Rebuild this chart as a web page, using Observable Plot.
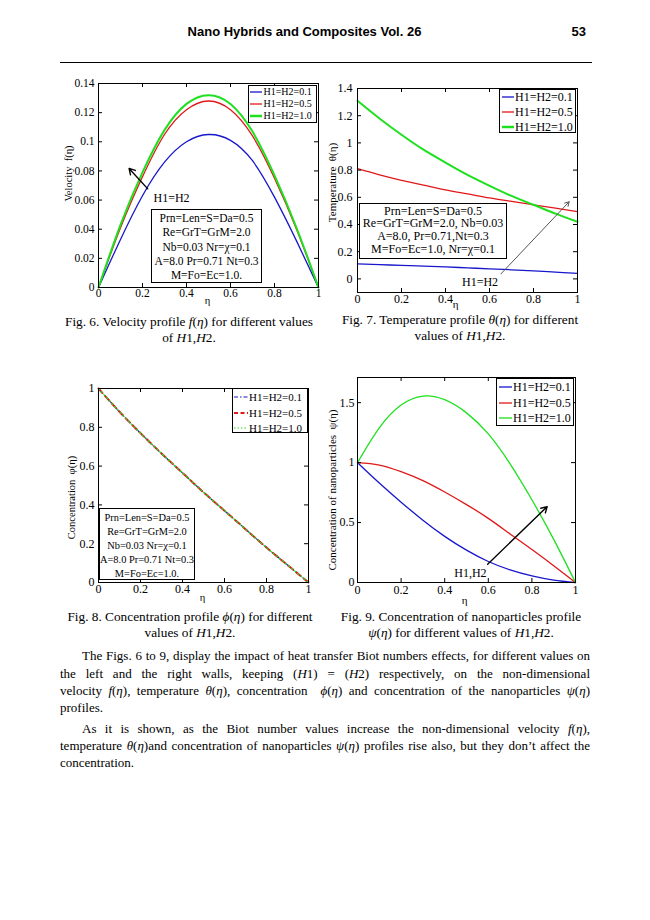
<!DOCTYPE html>
<html>
<head>
<meta charset="utf-8">
<script src="https://cdn.jsdelivr.net/npm/d3@7"></script>
<script src="https://cdn.jsdelivr.net/npm/@observablehq/plot@0.6"></script>
<style>
html, body { margin: 0; padding: 0; background: #fff; }
#page { position: relative; width: 650px; height: 920px; overflow: hidden; font-family: "Liberation Serif", "Times New Roman", serif; color: #000; background: #fff; }
.abs { position: absolute; white-space: nowrap; }
.header { font-family: "Liberation Sans", Arial, sans-serif; font-weight: bold; font-size: 13px; line-height: 16px; }
.caption { position: absolute; font-size: 13.3px; line-height: 16px; text-align: center; white-space: nowrap; }
.legend { position: absolute; border: 1px solid #000; background: #fff; box-sizing: border-box; }
.legend .row { position: absolute; left: 0; height: 16px; width: 100%; }
.legend svg { position: absolute; top: 0; }
.legend span { position: absolute; top: 0; line-height: 16px; white-space: nowrap; }
.pbox { position: absolute; border: 1px solid #000; background: #fff; box-sizing: border-box; text-align: center; white-space: nowrap; }
.pline { position: absolute; font-size: 13px; line-height: 17px; white-space: nowrap; }
</style>
</head>
<body>
<div id="page"></div>
<script>
// ---------------- DATA ----------------
const eta = [0, 0.1, 0.2, 0.3, 0.4, 0.5, 0.6, 0.7, 0.8, 0.9, 1];
const seriesNames = ["H1=H2=0.1", "H1=H2=0.5", "H1=H2=1.0"];

// Fig. 6 velocity f(eta)
const velocity01 = [0, 0.033, 0.063, 0.086, 0.100, 0.105, 0.101, 0.087, 0.062, 0.032, 0];
const velocity05 = [0, 0.041, 0.076, 0.105, 0.122, 0.128, 0.122, 0.104, 0.075, 0.040, 0];
const velocity10 = [0, 0.043, 0.079, 0.108, 0.126, 0.132, 0.126, 0.107, 0.077, 0.041, 0];

// Fig. 7 temperature theta(eta)
const temperature01 = [0.110, 0.105, 0.099, 0.094, 0.088, 0.081, 0.074, 0.067, 0.059, 0.050, 0.041];
const temperature05 = [0.810, 0.765, 0.725, 0.690, 0.655, 0.625, 0.595, 0.570, 0.545, 0.520, 0.495];
const temperature10 = [1.310, 1.180, 1.060, 0.950, 0.855, 0.765, 0.685, 0.610, 0.545, 0.480, 0.420];

// Fig. 8 concentration phi(eta) (the three curves coincide)
const concentration01 = [1, 0.880, 0.770, 0.665, 0.565, 0.465, 0.370, 0.275, 0.180, 0.090, 0];
const concentration05 = [1, 0.880, 0.770, 0.665, 0.565, 0.465, 0.370, 0.275, 0.180, 0.090, 0];
const concentration10 = [1, 0.880, 0.770, 0.665, 0.565, 0.465, 0.370, 0.275, 0.180, 0.090, 0];

// Fig. 9 nanoparticle concentration psi(eta)
const nano01 = [1, 0.830, 0.670, 0.520, 0.385, 0.270, 0.175, 0.105, 0.055, 0.020, 0];
const nano05 = [1, 0.980, 0.925, 0.850, 0.755, 0.650, 0.535, 0.405, 0.275, 0.140, 0];
const nano10 = [1, 1.290, 1.480, 1.555, 1.525, 1.415, 1.240, 0.990, 0.690, 0.360, 0];

// Tick values
const etaTicks = [0, 0.2, 0.4, 0.6, 0.8, 1];
const velocityTicks = [0, 0.02, 0.04, 0.06, 0.08, 0.1, 0.12, 0.14];
const temperatureTicks = [0, 0.2, 0.4, 0.6, 0.8, 1, 1.2, 1.4];
const concentrationTicks = [0, 0.2, 0.4, 0.6, 0.8, 1];
const nanoTicks = [0, 0.5, 1, 1.5];

// Annotations
const velocityArrow = [{x1: 0.224, y1: 0.0677, x2: 0.139, y2: 0.0817}];
const velocityNote = [{x: 0.25, y: 0.0616, text: "H1=H2"}];
const temperatureArrow = [{x1: 0.652, y1: 0.037, x2: 0.962, y2: 0.567}];
const temperatureNote = [{x: 0.557, y: -0.025, text: "H1=H2"}];
const nanoArrow = [{x1: 0.597, y1: 0.152, x2: 0.870, y2: 0.633}];
const nanoNote = [{x: 0.592, y: 0.078, text: "H1,H2"}];

const velocityParams = ["Prn=Len=S=Da=0.5", "Re=GrT=GrM=2.0", "Nb=0.03 Nr=χ=0.1", "A=8.0 Pr=0.71 Nt=0.3", "M=Fo=Ec=1.0."];
const temperatureParams = ["Prn=Len=S=Da=0.5", "Re=GrT=GrM=2.0, Nb=0.03", "A=8.0, Pr=0.71,Nt=0.3", "M=Fo=Ec=1.0, Nr=χ=0.1"];
const concentrationParams = ["Prn=Len=S=Da=0.5", "Re=GrT=GrM=2.0", "Nb=0.03 Nr=χ=0.1", "A=8.0 Pr=0.71 Nt=0.3", "M=Fo=Ec=1.0."];

// ---------------- STYLE ----------------
const BLUE = "#1717cc", RED = "#e01818", GREEN = "#1ee01e";
const page = document.getElementById("page");
const serif = '"Liberation Serif", "Times New Roman", serif';

function table(values) { return eta.map((e, i) => ({eta: e, value: values[i]})); }

function lineMark(values, stroke, width, dash) {
  return Plot.line(table(values), {x: "eta", y: "value", stroke, strokeWidth: width, strokeDasharray: dash, curve: "natural"});
}

function drawChart(cfg) {
  const fw = cfg.width - cfg.mL - cfg.mR, fh = cfg.height - cfg.mT - cfg.mB;
  const t = 4;
  const fmt = d => String(d);
  const chart = Plot.plot({
    width: cfg.width, height: cfg.height,
    marginLeft: cfg.mL, marginRight: cfg.mR, marginTop: cfg.mT, marginBottom: cfg.mB,
    style: {fontFamily: serif, fontSize: cfg.fontSize + "px", color: "#000", background: "transparent", overflow: "visible"},
    x: {domain: [0, 1]},
    y: {domain: cfg.yDomain},
    marks: [
      ...cfg.lines,
      Plot.tickX(etaTicks, {x: d => d, insetTop: fh - t, stroke: "#000"}),
      Plot.tickX(etaTicks, {x: d => d, insetBottom: fh - t, stroke: "#000"}),
      Plot.tickY(cfg.yTicks, {y: d => d, insetRight: fw - t, stroke: "#000"}),
      Plot.tickY(cfg.yTicks, {y: d => d, insetLeft: fw - t, stroke: "#000"}),
      Plot.axisX(etaTicks, {tickSize: 0, tickPadding: cfg.xPad, tickFormat: fmt, label: null}),
      Plot.axisY(cfg.yTicks, {tickSize: 0, tickPadding: cfg.yPad, tickFormat: fmt, label: null}),
      Plot.text([cfg.xLabel], {frameAnchor: "bottom", text: d => d, textAnchor: "middle", lineAnchor: "middle", dx: cfg.xlDx, dy: cfg.xlDy, fontSize: cfg.labelSize}),
      Plot.text([cfg.yLabel], {frameAnchor: "left", text: d => d, textAnchor: "middle", lineAnchor: "middle", rotate: -90, dx: cfg.ylDx, dy: cfg.ylDy, fontSize: cfg.labelSize}),
      ...cfg.notes,
      Plot.frame({stroke: "#000", strokeWidth: 1})
    ]
  });
  chart.style.position = "absolute";
  chart.style.left = cfg.left + "px";
  chart.style.top = cfg.top + "px";
  page.appendChild(chart);
}

function legend(cfg) {
  const box = document.createElement("div");
  box.className = "legend";
  Object.assign(box.style, {left: cfg.left + "px", top: cfg.top + "px", width: cfg.width + "px", height: cfg.height + "px", fontSize: cfg.fontSize + "px"});
  seriesNames.forEach((name, i) => {
    const row = document.createElement("div");
    row.className = "row";
    row.style.top = (cfg.rows[i] - cfg.top - 1 - 8) + "px";
    const s = cfg.styles[i];
    const sw = cfg.sampleX1 - cfg.sampleX0;
    const svgNS = "http://www.w3.org/2000/svg";
    const svg = document.createElementNS(svgNS, "svg");
    svg.setAttribute("width", sw); svg.setAttribute("height", 16);
    svg.style.left = (cfg.sampleX0 - cfg.left - 1) + "px";
    const ln = document.createElementNS(svgNS, "line");
    ln.setAttribute("x1", 0); ln.setAttribute("x2", sw); ln.setAttribute("y1", 8); ln.setAttribute("y2", 8);
    ln.setAttribute("stroke", s.color); ln.setAttribute("stroke-width", s.width);
    if (s.dash) ln.setAttribute("stroke-dasharray", s.dash);
    svg.appendChild(ln);
    row.appendChild(svg);
    const sp = document.createElement("span");
    sp.textContent = name;
    sp.style.left = (cfg.textX - cfg.left - 1) + "px";
    row.appendChild(sp);
    box.appendChild(row);
  });
  page.appendChild(box);
}

function paramBox(cfg) {
  const box = document.createElement("div");
  box.className = "pbox";
  Object.assign(box.style, {left: cfg.left + "px", top: cfg.top + "px", width: cfg.width + "px", height: cfg.height + "px",
    fontSize: cfg.fontSize + "px", lineHeight: cfg.lineHeight + "px", paddingTop: cfg.padTop + "px"});
  box.innerHTML = cfg.lines.join("<br>");
  page.appendChild(box);
}

function text(html, cls, left, top, extra) {
  const d = document.createElement("div");
  d.className = cls;
  d.innerHTML = html;
  d.style.left = left + "px";
  d.style.top = top + "px";
  if (extra) Object.assign(d.style, extra);
  page.appendChild(d);
  return d;
}

// ---------------- HEADER ----------------
text("Nano Hybrids and Composites Vol. 26", "abs header", 0, 24, {width: "609px", textAlign: "center"});
text("53", "abs header", 500, 24, {width: "86px", textAlign: "right"});
text("", "abs", 60, 61.5, {width: "532px", height: "0px", borderTop: "1.3px solid #000"});

// ---------------- FIG 6 ----------------
drawChart({
  left: 30, top: 75, width: 300, height: 240, mL: 68, mR: 12, mT: 8, mB: 28,
  yDomain: [0, 0.14], yTicks: velocityTicks, fontSize: 11.5, labelSize: 10.5, xPad: 1.5, yPad: 4,
  xLabel: "η", yLabel: "Velocity\u00a0\u00a0f(η)", xlDx: -1, xlDy: 13, ylDx: -30, ylDy: -12,
  lines: [lineMark(velocity01, BLUE, 1.3), lineMark(velocity05, RED, 1.3), lineMark(velocity10, GREEN, 2)],
  notes: [
    Plot.arrow(velocityArrow, {x1: "x1", y1: "y1", x2: "x2", y2: "y2", stroke: "#000", strokeWidth: 1.4, headLength: 7}),
    Plot.text(velocityNote, {x: "x", y: "y", text: "text", textAnchor: "start", fontSize: 12})
  ]
});
legend({left: 248, top: 85, width: 69, height: 38, fontSize: 10, rows: [92, 104, 116], sampleX0: 250, sampleX1: 262, textX: 263.5,
  styles: [{color: BLUE, width: 1.3}, {color: RED, width: 1.3}, {color: GREEN, width: 2.5}]});
paramBox({left: 151, top: 209, width: 111, height: 74, fontSize: 11.5, lineHeight: 14.3, padTop: 1, lines: velocityParams});

// ---------------- FIG 7 ----------------
drawChart({
  left: 300, top: 75, width: 290, height: 240, mL: 57, mR: 13, mT: 13, mB: 23,
  yDomain: [-0.1, 1.4], yTicks: temperatureTicks, fontSize: 12, labelSize: 11, xPad: 2, yPad: 5,
  xLabel: "η", yLabel: "Temperature\u00a0\u00a0θ(η)", xlDx: -12, xlDy: 12, ylDx: -25, ylDy: -8,
  lines: [lineMark(temperature01, BLUE, 1.3), lineMark(temperature05, RED, 1.3), lineMark(temperature10, GREEN, 2)],
  notes: [
    Plot.arrow(temperatureArrow, {x1: "x1", y1: "y1", x2: "x2", y2: "y2", stroke: "#555", strokeWidth: 1, headLength: 7}),
    Plot.text(temperatureNote, {x: "x", y: "y", text: "text", fontSize: 12})
  ]
});
legend({left: 499, top: 89, width: 77, height: 44, fontSize: 12, rows: [97, 112, 127], sampleX0: 501.5, sampleX1: 513.5, textX: 515,
  styles: [{color: BLUE, width: 1.3}, {color: RED, width: 1.3}, {color: GREEN, width: 2.5}]});
paramBox({left: 359, top: 203, width: 148, height: 56, fontSize: 12, lineHeight: 12.8, padTop: 0.5, lines: temperatureParams});

// ---------------- FIG 8 ----------------
drawChart({
  left: 30, top: 375, width: 290, height: 240, mL: 68, mR: 12, mT: 13, mB: 33,
  yDomain: [0, 1], yTicks: concentrationTicks, fontSize: 12, labelSize: 10.5, xPad: 2, yPad: 4,
  xLabel: "η", yLabel: "Concentration\u00a0\u00a0φ(η)", xlDx: -1, xlDy: 15, ylDx: -27, ylDy: 12,
  lines: [lineMark(concentration01, BLUE, 1.2, "6,3,1.5,3"), lineMark(concentration05, RED, 2, "6,4"), lineMark(concentration10, GREEN, 1.2, "1.5,2.5")],
  notes: []
});
legend({left: 232, top: 388, width: 76, height: 45, fontSize: 11, rows: [397, 413, 428], sampleX0: 234, sampleX1: 248, textX: 249,
  styles: [{color: BLUE, width: 1.2, dash: "4,2,1.5,2"}, {color: RED, width: 2, dash: "4,2.5"}, {color: GREEN, width: 1.2, dash: "1.5,2"}]});
paramBox({left: 99, top: 508, width: 96, height: 72, fontSize: 10.4, lineHeight: 14, padTop: 1.5, lines: concentrationParams});

// ---------------- FIG 9 ----------------
drawChart({
  left: 300, top: 370, width: 290, height: 240, mL: 57, mR: 15, mT: 7, mB: 28,
  yDomain: [0, 1.71], yTicks: nanoTicks, fontSize: 12, labelSize: 11, xPad: 2.5, yPad: 3,
  xLabel: "η", yLabel: "Concentration of nanoparticles\u00a0\u00a0ψ(η)", xlDx: -2, xlDy: 18, ylDx: -25, ylDy: 10,
  lines: [lineMark(nano01, BLUE, 1.3), lineMark(nano05, RED, 1.3), lineMark(nano10, GREEN, 1.3)],
  notes: [
    Plot.arrow(nanoArrow, {x1: "x1", y1: "y1", x2: "x2", y2: "y2", stroke: "#000", strokeWidth: 1.4, headLength: 7}),
    Plot.text(nanoNote, {x: "x", y: "y", text: "text", textAnchor: "end", fontSize: 12})
  ]
});
legend({left: 496, top: 378, width: 78, height: 48, fontSize: 12, rows: [387, 403, 418], sampleX0: 498.5, sampleX1: 511.5, textX: 513,
  styles: [{color: BLUE, width: 1.3}, {color: RED, width: 1.3}, {color: GREEN, width: 1.3}]});

// ---------------- CAPTIONS ----------------
text("Fig. 6. Velocity profile <i>f</i>(<i>η</i>) for different values<br>of <i>H</i>1,<i>H</i>2.", "caption", 49, 314, {width: "280px"});
text("Fig. 7. Temperature profile <i>θ</i>(<i>η</i>) for different<br>values of <i>H</i>1,<i>H</i>2.", "caption", 320, 312, {width: "280px"});
text("Fig. 8. Concentration profile <i>ϕ</i>(<i>η</i>) for different<br>values of <i>H</i>1,<i>H</i>2.", "caption", 50, 609, {width: "280px"});
text("Fig. 9. Concentration of nanoparticles profile<br><i>ψ</i>(<i>η</i>) for different values of <i>H</i>1,<i>H</i>2.", "caption", 321, 609, {width: "280px"});

// ---------------- PARAGRAPH ----------------
const paraLines = [
  {html: "The Figs. 6 to 9, display the impact of heat transfer Biot numbers effects, for different values on", left: 82, y: 655, justify: true},
  {html: "the left and the right walls, keeping (<i>H</i>1) = (<i>H</i>2) respectively, on the non-dimensional", left: 60, y: 673, justify: true},
  {html: "velocity <i>f</i>(<i>η</i>), temperature <i>θ</i>(<i>η</i>), concentration&nbsp; <i>ϕ</i>(<i>η</i>) and concentration of the nanoparticles <i>ψ</i>(<i>η</i>)", left: 60, y: 690, justify: true},
  {html: "profiles.", left: 60, y: 707, justify: false},
  {html: "As it is shown, as the Biot number values increase the non-dimensional velocity <i>f</i>(<i>η</i>),", left: 82, y: 728, justify: true},
  {html: "temperature <i>θ</i>(<i>η</i>)and concentration of nanoparticles <i>ψ</i>(<i>η</i>) profiles rise also, but they don’t affect the", left: 60, y: 745, justify: true},
  {html: "concentration.", left: 60, y: 762, justify: false}
];
paraLines.forEach(l => {
  const d = text("<span>" + l.html + "</span>", "pline", l.left, l.y - 8.5);
  if (l.justify) {
    const span = d.firstChild;
    const target = 590 - l.left;
    const natural = span.getBoundingClientRect().width;
    const spaces = (span.textContent.match(/[ \u00a0]/g) || []).length;
    if (spaces > 0) span.style.wordSpacing = ((target - natural) / spaces) + "px";
  }
});
</script>
</body>
</html>
